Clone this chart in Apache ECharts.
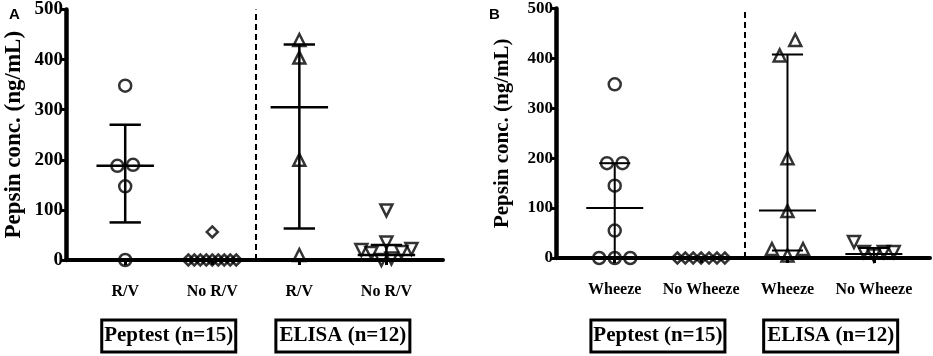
<!DOCTYPE html>
<html>
<head>
<meta charset="utf-8">
<script src="https://cdn.jsdelivr.net/npm/echarts@6/dist/echarts.min.js"></script>
<style>
  html, body { margin: 0; padding: 0; background: #fff; }
  #chart { width: 933px; height: 356px; }
</style>
</head>
<body>
<div id="chart"></div>
<script>
// categories / labels
var catsA = ['R/V', 'No R/V', 'R/V', 'No R/V'];
var catsB = ['Wheeze', 'No Wheeze', 'Wheeze', 'No Wheeze'];
var groupNames = ['Peptest (n=15)', 'ELISA (n=12)'];
var yTicks = [0, 100, 200, 300, 400, 500];

// panel A values (ng/mL)
var aPeptestRV = [0, 147, 188, 190, 348];
var aPeptestNoRV = [0, 0, 0, 0, 0, 0, 0, 0, 0, 56];
var aElisaRV = [10, 200, 404, 439];
var aElisaNoRV = [0, 3, 14, 16, 20, 22, 35, 99];
// [centre, lower, upper] per column
var aSummary = [[188, 75, 270], [0, 0, 0], [305, 63, 430], [10, 0, 30]];

// panel B values (ng/mL)
var bPeptestW = [0, 0, 0, 55, 145, 190, 190, 348];
var bPeptestNoW = [0, 0, 0, 0, 0, 0, 0];
var bElisaW = [5, 18, 18, 94, 200, 406, 437];
var bElisaNoW = [5, 12, 12, 12, 32];
var bSummary = [[100, 0, 190], [0, 0, 0], [95, 15, 408], [8, 0, 20]];

var SERIF = '"Liberation Serif", "Times New Roman", serif';

// spread points with near-equal values sideways (scatter dot plot style)
function swarm(values, col) {
  var sorted = values.slice().sort(function (a, b) { return a - b; });
  var clusters = [];
  sorted.forEach(function (v) {
    var last = clusters[clusters.length - 1];
    if (last && v - last[0] < 33) last.push(v); else clusters.push([v]);
  });
  var out = [];
  clusters.forEach(function (cl) {
    var n = cl.length;
    var step = n <= 3 ? 0.18 : (n <= 6 ? 0.115 : 0.55 / (n - 1));
    cl.forEach(function (v, k) {
      var slot = k === 0 ? 0 : (k % 2 ? (k + 1) / 2 : -k / 2);
      if (n % 2 === 0) slot -= 0.5;
      out.push([col + slot * step, v]);
    });
  });
  return out;
}

function dots(values, col, symbol, rotate, idx) {
  return {
    type: 'scatter',
    xAxisIndex: idx, yAxisIndex: idx,
    symbol: symbol,
    symbolRotate: rotate,
    symbolSize: symbol === 'diamond' ? 11 : 12,
    itemStyle: { color: 'rgba(255,255,255,0)', borderColor: '#000', borderWidth: 2.5 },
    data: swarm(values, col),
    z: 3
  };
}

function summary(rows, idx, lw) {
  return {
    type: 'custom',
    xAxisIndex: idx, yAxisIndex: idx,
    z: 4,
    data: rows.map(function (r, i) { return [i + 1, r[0], r[1], r[2]]; }),
    renderItem: function (params, api) {
      var x = api.value(0);
      var c = api.coord([x, api.value(1)]);
      var lo = api.coord([x, api.value(2)]);
      var hi = api.coord([x, api.value(3)]);
      var hc = api.size([0.33, 0])[0];
      var hk = api.size([0.18, 0])[0];
      var st = { stroke: '#000', lineWidth: lw };
      return {
        type: 'group',
        children: [
          { type: 'line', shape: { x1: lo[0], y1: lo[1], x2: hi[0], y2: hi[1] }, style: st },
          { type: 'line', shape: { x1: c[0] - hc, y1: c[1], x2: c[0] + hc, y2: c[1] }, style: st },
          { type: 'line', shape: { x1: lo[0] - hk, y1: lo[1], x2: lo[0] + hk, y2: lo[1] }, style: st },
          { type: 'line', shape: { x1: hi[0] - hk, y1: hi[1], x2: hi[0] + hk, y2: hi[1] }, style: st }
        ]
      };
    }
  };
}

function divider(idx) {
  return {
    type: 'scatter', xAxisIndex: idx, yAxisIndex: idx, data: [],
    markLine: {
      silent: true, symbol: 'none', label: { show: false },
      lineStyle: { color: '#000', type: [6, 4], width: 2 },
      data: [{ xAxis: 2.5 }]
    }
  };
}

function xAxisFor(cats, idx, size) {
  return {
    type: 'value', gridIndex: idx, min: 0.32, max: 4.65,
    splitLine: { show: false },
    axisLine: { lineStyle: { color: '#000', width: 4 } },
    axisTick: { customValues: [1, 2, 3, 4], length: 5, lineStyle: { color: '#000', width: 3 } },
    axisLabel: {
      customValues: [1, 2, 3, 4], margin: 24,
      formatter: function (v) { return cats[Math.round(v) - 1]; },
      fontFamily: SERIF, fontWeight: 'bold', fontSize: size, color: '#000'
    }
  };
}

function yAxisFor(idx, size, nameSize, gap) {
  return {
    type: 'value', gridIndex: idx, min: yTicks[0], max: yTicks[yTicks.length - 1], interval: 100,
    name: 'Pepsin conc. (ng/mL)', nameLocation: 'middle', nameGap: gap,
    nameTextStyle: { fontFamily: SERIF, fontWeight: 'bold', fontSize: nameSize, color: '#000' },
    splitLine: { show: false },
    axisLine: { show: true, lineStyle: { color: '#000', width: 4.5 } },
    axisTick: { show: true, length: 6, lineStyle: { color: '#000', width: 3 } },
    axisLabel: { margin: 3, fontFamily: SERIF, fontWeight: 'bold', fontSize: size, color: '#000' }
  };
}

var chart = echarts.init(document.getElementById('chart'));
chart.setOption({
  animation: false,
  grid: [
    { left: 66, top: 8, width: 377, height: 252 },
    { left: 556, top: 8, width: 374, height: 250 }
  ],
  xAxis: [xAxisFor(catsA, 0, 16), xAxisFor(catsB, 1, 16)],
  yAxis: [yAxisFor(0, 19, 23, 40), yAxisFor(1, 17, 21, 43)],
  series: [
    divider(0),
    dots(aPeptestRV, 1, 'circle', 0, 0),
    dots(aPeptestNoRV, 2, 'diamond', 0, 0),
    dots(aElisaRV, 3, 'triangle', 0, 0),
    dots(aElisaNoRV, 4, 'triangle', 180, 0),
    summary(aSummary, 0, 2.5),
    divider(1),
    dots(bPeptestW, 1, 'circle', 0, 1),
    dots(bPeptestNoW, 2, 'diamond', 0, 1),
    dots(bElisaW, 3, 'triangle', 0, 1),
    dots(bElisaNoW, 4, 'triangle', 180, 1),
    summary(bSummary, 1, 2)
  ]
});

// group boxes under each pair of columns, plus panel letters
var graphics = [
  { type: 'text', left: 9, top: 7, style: { text: 'A', font: 'bold 15px "Liberation Sans", Arial, sans-serif', fill: '#000' } },
  { type: 'text', left: 489, top: 7, style: { text: 'B', font: 'bold 15px "Liberation Sans", Arial, sans-serif', fill: '#000' } }
];
[0, 1].forEach(function (g) {
  [1.5, 3.5].forEach(function (mid, j) {
    var cx = chart.convertToPixel({ gridIndex: g }, [mid, 0])[0];
    graphics.push({
      type: 'rect', shape: { x: cx - 67, y: 320, width: 134, height: 32 },
      style: { fill: '#fff', stroke: '#000', lineWidth: 3 }
    });
    graphics.push({
      type: 'text', x: cx, y: 336,
      style: { text: groupNames[j], font: 'bold 21px ' + SERIF, fill: '#000', align: 'center', verticalAlign: 'middle' }
    });
  });
});
chart.setOption({ graphic: graphics });
</script>
</body>
</html>
